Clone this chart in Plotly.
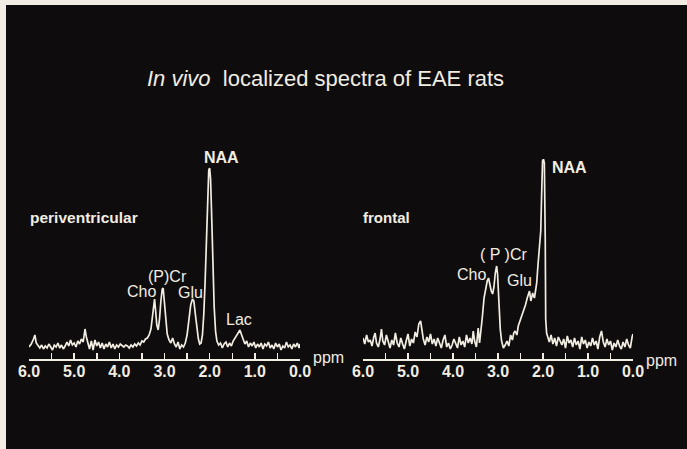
import plotly.graph_objects as go

# ---- data (ppm, intensity in arbitrary units) ----
peri_ppm = [6.00, 5.95, 5.90, 5.87, 5.84, 5.80, 5.76, 5.72, 5.68, 5.64, 5.60, 5.56, 5.52, 5.48, 5.44, 5.40,
            5.36, 5.32, 5.28, 5.24, 5.20, 5.16, 5.12, 5.08, 5.04, 5.00, 4.96, 4.92, 4.88, 4.84, 4.80, 4.76,
            4.73, 4.70, 4.66, 4.62, 4.58, 4.54, 4.50, 4.46, 4.42, 4.38, 4.34, 4.30, 4.26, 4.22, 4.18, 4.14,
            4.10, 4.06, 4.02, 3.98, 3.94, 3.90, 3.86, 3.82, 3.78, 3.74, 3.70, 3.66, 3.62, 3.58, 3.54, 3.50,
            3.46, 3.42, 3.38, 3.34, 3.30, 3.27, 3.24, 3.22, 3.20, 3.17, 3.14, 3.11, 3.08, 3.05, 3.03, 3.00,
            2.97, 2.94, 2.90, 2.86, 2.82, 2.78, 2.74, 2.70, 2.66, 2.62, 2.58, 2.54, 2.50, 2.46, 2.42, 2.38,
            2.35, 2.32, 2.28, 2.25, 2.22, 2.19, 2.16, 2.13, 2.10, 2.07, 2.04, 2.02, 2.00, 1.98, 1.96, 1.93,
            1.90, 1.87, 1.84, 1.80, 1.76, 1.72, 1.68, 1.64, 1.60, 1.56, 1.52, 1.48, 1.44, 1.40, 1.36, 1.33,
            1.30, 1.26, 1.22, 1.18, 1.14, 1.10, 1.06, 1.02, 0.98, 0.94, 0.90, 0.86, 0.82, 0.78, 0.74, 0.70,
            0.66, 0.62, 0.58, 0.54, 0.50, 0.46, 0.42, 0.38, 0.34, 0.30, 0.26, 0.22, 0.18, 0.14, 0.10, 0.06,
            0.02, 0.00]
peri_int = [12, 15, 20, 24, 16, 13, 11, 14, 10, 13, 11, 15, 12, 9, 14, 12,
            16, 11, 14, 10, 13, 17, 13, 19, 14, 16, 12, 18, 15, 20, 17, 30,
            22, 16, 10, 18, 9, 19, 13, 17, 11, 16, 10, 15, 12, 17, 11, 15,
            10, 14, 12, 15, 13, 12, 14, 13, 11, 14, 12, 15, 13, 16, 14, 18,
            17, 20, 21, 24, 30, 44, 56, 60, 50, 34, 29, 40, 58, 70, 71, 56,
            35, 25, 19, 16, 21, 15, 12, 17, 10, 14, 12, 16, 24, 40, 54, 60,
            58, 46, 30, 20, 15, 16, 24, 45, 78, 125, 172, 189, 191, 180, 150, 98,
            52, 28, 18, 14, 16, 11, 15, 17, 12, 16, 13, 18, 21, 24, 27, 29,
            25, 20, 15, 18, 12, 16, 13, 17, 11, 15, 12, 16, 10, 15, 13, 17,
            11, 14, 10, 16, 12, 15, 9, 13, 11, 17, 12, 14, 10, 15, 12, 16,
            11, 15]

front_ppm = [6.00, 5.96, 5.92, 5.88, 5.84, 5.80, 5.76, 5.73, 5.70, 5.66, 5.62, 5.59, 5.56, 5.52, 5.48, 5.44,
             5.40, 5.36, 5.32, 5.28, 5.24, 5.20, 5.16, 5.12, 5.08, 5.04, 5.00, 4.96, 4.92, 4.88, 4.84, 4.80,
             4.76, 4.72, 4.69, 4.66, 4.62, 4.58, 4.54, 4.50, 4.46, 4.42, 4.38, 4.34, 4.30, 4.26, 4.22, 4.18,
             4.14, 4.10, 4.06, 4.02, 3.98, 3.94, 3.90, 3.86, 3.82, 3.78, 3.74, 3.70, 3.66, 3.62, 3.58, 3.55,
             3.52, 3.48, 3.44, 3.41, 3.38, 3.35, 3.31, 3.27, 3.24, 3.21, 3.18, 3.15, 3.12, 3.09, 3.06, 3.03,
             3.01, 2.98, 2.95, 2.92, 2.88, 2.84, 2.80, 2.76, 2.72, 2.68, 2.65, 2.62, 2.58, 2.55, 2.51, 2.47,
             2.43, 2.39, 2.35, 2.32, 2.30, 2.27, 2.25, 2.23, 2.21, 2.19, 2.16, 2.14, 2.11, 2.09, 2.07, 2.05,
             2.03, 2.01, 1.99, 1.97, 1.95, 1.94, 1.92, 1.89, 1.86, 1.82, 1.78, 1.74, 1.70, 1.66, 1.62, 1.58,
             1.54, 1.50, 1.46, 1.42, 1.38, 1.34, 1.30, 1.26, 1.22, 1.18, 1.14, 1.10, 1.06, 1.02, 0.98, 0.94,
             0.90, 0.86, 0.82, 0.78, 0.74, 0.70, 0.66, 0.62, 0.58, 0.54, 0.50, 0.46, 0.42, 0.38, 0.34, 0.30,
             0.26, 0.22, 0.18, 0.14, 0.10, 0.06, 0.02, 0.00]
front_int = [21, 15, 24, 17, 19, 13, 22, 26, 16, 12, 20, 30, 18, 14, 24, 17,
             11, 19, 14, 26, 16, 12, 21, 15, 10, 18, 25, 13, 20, 16, 27, 22,
             35, 38, 30, 20, 14, 22, 17, 25, 15, 20, 13, 21, 16, 11, 19, 24,
             12, 16, 10, 14, 20, 15, 11, 22, 14, 18, 12, 24, 16, 21, 15, 28,
             18, 12, 31, 16, 26, 41, 61, 72, 78, 81, 74, 68, 65, 72, 86, 93,
             85, 55, 30, 18, 11, 14, 18, 13, 24, 19, 26, 28, 24, 33, 38, 45,
             49, 54, 61, 65, 68, 58, 62, 66, 63, 61, 70, 76, 95, 108, 118, 128,
             165, 198, 200, 196, 120, 40, 26, 22, 17, 24, 15, 21, 13, 22, 18, 14,
             20, 11, 23, 16, 19, 12, 21, 14, 18, 10, 22, 15, 19, 11, 17, 13,
             21, 14, 18, 10, 22, 28, 17, 12, 20, 14, 18, 9, 16, 12, 19, 13,
             10, 17, 12, 20, 14, 11, 22, 25]

tick_vals = [6, 5, 4, 3, 2, 1, 0]
tick_text = ["6.0", "5.0", "4.0", "3.0", "2.0", "1.0", "0.0"]

W, H = 687, 449
FG = "#f1ede2"
BG = "#0e0c0c"
FONT = "Liberation Sans, Arial, sans-serif"


def px(x):
    return x / W


def py(y):
    return 1 - y / H


fig = go.Figure()
fig.add_trace(go.Scatter(x=peri_ppm, y=peri_int, mode="lines", xaxis="x", yaxis="y",
                         line=dict(color=FG, width=1.7), hoverinfo="skip", showlegend=False))
fig.add_trace(go.Scatter(x=front_ppm, y=front_int, mode="lines", xaxis="x2", yaxis="y2",
                         line=dict(color=FG, width=1.7), hoverinfo="skip", showlegend=False))

xcommon = dict(range=[6, 0], showline=True, linecolor=FG, linewidth=1.6, showgrid=False, zeroline=False,
               tickmode="array", tickvals=tick_vals, ticktext=tick_text, ticks="inside", ticklen=6,
               tickwidth=1.5, tickcolor=FG, automargin=False, ticklabelstandoff=-3,
               tickfont=dict(family=FONT, size=16, color=FG, weight="bold"),
               minor=dict(dtick=0.5, ticks="inside", ticklen=6, tickwidth=1.5, tickcolor=FG, showgrid=False),
               fixedrange=True)
ycommon = dict(range=[0, 200], visible=False, showgrid=False, zeroline=False, fixedrange=True,
               automargin=False, domain=[py(359), py(159)])

fig.update_layout(
    width=W, height=H, autosize=False,
    margin=dict(l=0, r=0, t=0, b=0, pad=0, autoexpand=False),
    paper_bgcolor="#f1ede4",
    plot_bgcolor="rgba(0,0,0,0)",
    xaxis=dict(domain=[px(29), px(300)], anchor="y", **xcommon),
    xaxis2=dict(domain=[px(363), px(633)], anchor="y2", **xcommon),
    yaxis=dict(anchor="x", **ycommon),
    yaxis2=dict(anchor="x2", **ycommon),
    shapes=[dict(type="rect", xref="paper", yref="paper", x0=px(6), x1=1.0, y0=0, y1=py(5),
                 fillcolor=BG, line=dict(width=0), layer="below")],
    showlegend=False,
)


def note(text, x, y, size=16, bold=False, xanchor="center"):
    fig.add_annotation(text=text, x=px(x), y=py(y), xref="paper", yref="paper", showarrow=False,
                       xanchor=xanchor, yanchor="middle",
                       font=dict(family=FONT, size=size, color=FG, weight="bold" if bold else "normal"))


note("<i>In vivo</i>  localized spectra of EAE rats", 325, 78, size=22)
note("periventricular", 28, 217, size=15.5, bold=True, xanchor="left")
note("frontal", 361, 217, size=15, bold=True, xanchor="left")
# left peak labels
note("NAA", 221, 158, size=16, bold=True)
note("(P)Cr", 167, 276, size=16)
note("Cho", 141, 291, size=16)
note("Glu", 190, 292, size=16)
note("Lac", 239, 319, size=16)
# right peak labels
note("NAA", 569, 167, size=16, bold=True)
note("( P )Cr", 503, 254, size=16)
note("Cho", 471, 274, size=16)
note("Glu", 519, 280, size=16)
# axis units
note("ppm", 311, 357, size=16, xanchor="left")
note("ppm", 644, 360, size=16, xanchor="left")

fig.write_html("out.html", config={"displayModeBar": False, "staticPlot": True},
               post_script="document.body.style.margin='0';document.body.style.overflow='hidden';")
